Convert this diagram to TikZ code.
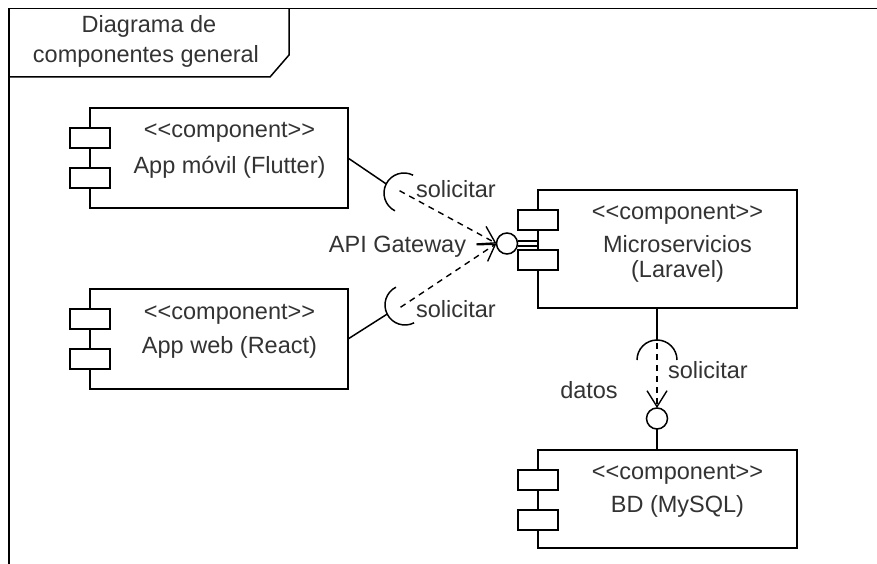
\documentclass[tikz,border=0pt]{standalone}
\usepackage{fontspec}
\setmainfont{Liberation Sans}
\usetikzlibrary{arrows.meta}
\newcommand{\stereo}{<\kern0pt<\kern0pt component>\kern0pt>}
\begin{document}
\begin{tikzpicture}[x=1pt,y=1pt,
  every node/.style={inner sep=0pt, outer sep=0pt},
  ln/.style={line width=1.5pt, draw=black},
  comp/.style={ln, rectangle, fill=white, anchor=north west},
  port/.style={ln, fill=white},
  lolli/.style={ln, circle, fill=white, minimum size=21pt},
  txt/.style={anchor=base, font=\fontsize{23.5}{28}\selectfont, text=black!80},
  dsh/.style={line width=1.4pt, draw=black, dash pattern=on 6pt off 5pt,
    -{Straight Barb[length=16pt,width=20pt,line width=1.4pt]}},
]
\useasboundingbox (0,0) rectangle (877,-564);

% frame
\draw[ln] (9,-564) -- (9,-8.5) -- (877,-8.5);
\draw[ln] (289,-8.5) -- (289,-55) -- (270,-77) -- (9,-77);
\node[txt] (t1) at (149,-33) {Diagrama de};
\node[txt] (t2) at (146,-63) {componentes general};

% components
\node[comp, minimum width=258pt, minimum height=100pt] (app) at (90,-108) {};
\node[comp, minimum width=258pt, minimum height=100pt] (web) at (90,-289) {};
\node[comp, minimum width=259pt, minimum height=118pt] (micro) at (538,-190) {};
\node[comp, minimum width=259pt, minimum height=98pt] (bd) at (538,-450) {};

\foreach \c in {app,web,micro,bd}{
  \draw[port] ([shift={(-20pt,-20pt)}]\c.north west) rectangle ++(40pt,-20pt);
  \draw[port] ([shift={(-20pt,-60pt)}]\c.north west) rectangle ++(40pt,-20pt);
}

\node[txt] (appS) at (229.5,-138) {\stereo};
\node[txt] (appN) at (229.5,-173) {App móvil (Flutter)};
\node[txt] (webS) at (229.5,-319) {\stereo};
\node[txt] (webN) at (229.5,-353) {App web (React)};
\node[txt] (microS) at (677.5,-219) {\stereo};
\node[txt] (microN) at (677.5,-252) {Microservicios};
\node[txt] (microN2) at (677.5,-277) {(Laravel)};
\node[txt] (bdS) at (677.5,-479) {\stereo};
\node[txt] (bdN) at (677.5,-512) {BD (MySQL)};

% provided interfaces (lollipops)
\node[lolli] (gw) at (507,-243.5) {};
\draw[ln] ([yshift=2.5pt]gw.east) -- ([yshift=2.5pt]gw.east -| micro.west);
\draw[ln] ([yshift=-2.5pt]gw.east) -- ([yshift=-2.5pt]gw.east -| micro.west);
\node[lolli] (db) at (657,-418.5) {};
\draw[ln] (db.south) -- (db.south |- bd.north);

% required interfaces (sockets)
\coordinate (s1) at (404,-193);
\coordinate (b1) at ([shift={(153:20pt)}]s1);
\coordinate (d1) at ([shift={(153:5pt)}]s1);
\draw[ln] ([shift={(63:20pt)}]s1) arc[start angle=63, end angle=243, radius=20pt];
\draw[ln] (app.east) -- (b1);
\draw[dsh] (d1) -- (gw.west);

\coordinate (s2) at (405,-305);
\coordinate (b2) at ([shift={(207:20pt)}]s2);
\coordinate (d2) at ([shift={(207:5pt)}]s2);
\draw[ln] ([shift={(117:20pt)}]s2) arc[start angle=117, end angle=297, radius=20pt];
\draw[ln] (web.east) -- (b2);
\draw[dsh] (d2) -- (gw.west);

\coordinate (s3) at (657,-360);
\coordinate (b3) at ([shift={(90:20pt)}]s3);
\coordinate (d3) at ([shift={(90:17pt)}]s3);
\draw[ln] ([shift={(0:20pt)}]s3) arc[start angle=0, end angle=180, radius=20pt];
\draw[ln] (micro.south -| s3) -- (b3);
\draw[dsh] (d3) -- (db.north);

% labels
\node[txt] (l1) at (456,-197) {solicitar};
\node[txt] (l2) at (456,-317) {solicitar};
\node[txt] (l3) at (397.5,-252) {API Gateway};
\node[txt] (l4) at (708,-378) {solicitar};
\node[txt] (l5) at (589,-398) {datos};
\end{tikzpicture}
\end{document}
